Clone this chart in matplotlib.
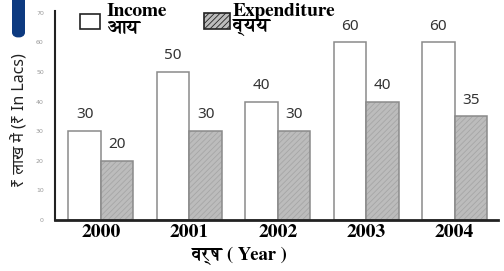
import matplotlib
matplotlib.use('Agg')
import matplotlib.pyplot as plt
import matplotlib.patches as mpatches
import numpy as np

# data
years = ['2000', '2001', '2002', '2003', '2004']
income = [30, 50, 40, 60, 60]
expenditure = [20, 30, 30, 40, 35]

serif = ['FreeSerif', 'Liberation Serif', 'DejaVu Serif']
sans = ['Noto Sans', 'Noto Sans Devanagari', 'DejaVu Sans']

plt.rcParams['hatch.linewidth'] = 0.6
plt.rcParams['hatch.color'] = '#a0a0a0'

fig = plt.figure(figsize=(5.04, 2.71), dpi=100)
ax = fig.add_axes([0.109, 0.188, 0.879, 0.77])

x = np.arange(len(years))
w = 0.367
ax.bar(x - w / 2, income, w, color='white', edgecolor='#8a8a8a', linewidth=1.1)
# hatched fill, then outline on top
ax.bar(x + w / 2, expenditure, w, color='#bcbcbc', edgecolor='#a6a6a6',
       linewidth=0, hatch='//////')
ax.bar(x + w / 2, expenditure, w, fill=False, edgecolor='#8a8a8a', linewidth=1.1)

for xi, v in zip(x - w / 2, income):
    ax.text(xi, v + 3, str(v), ha='center', va='bottom', fontsize=11,
            color='#333333', family=sans)
for xi, v in zip(x + w / 2, expenditure):
    ax.text(xi, v + 3, str(v), ha='center', va='bottom', fontsize=11,
            color='#333333', family=sans)

ax.set_xlim(-0.52, 4.49)
ax.set_ylim(0, 70.5)
ax.set_yticks(range(0, 71, 10))
ax.tick_params(axis='y', length=0, labelsize=4.5, labelcolor='#999999', pad=8)
ax.tick_params(axis='x', length=0, pad=3)
ax.set_xticks(x)
ax.set_xticklabels(years, fontsize=14, fontweight='bold', family=serif)
for s in ['top', 'right']:
    ax.spines[s].set_visible(False)
ax.spines['left'].set_linewidth(1.5)
ax.spines['bottom'].set_linewidth(2)
ax.spines['left'].set_color('#222222')
ax.spines['bottom'].set_color('#222222')

ax.set_xlabel('वर्ष ( Year )', fontsize=13.5, fontweight='bold', family=serif, va='center')
ax.xaxis.set_label_coords(0.418, -0.17)
ax.set_ylabel('₹ लाख में (₹ In Lacs)', fontsize=11.5, color='#222222',
              family=sans, va='center')
ax.yaxis.set_label_coords(-0.079, 0.48)

# legend drawn by hand
fig.patches.append(mpatches.Rectangle((80 / 504, 1 - 29 / 271), 20 / 504, 15 / 271,
                                      transform=fig.transFigure, facecolor='white',
                                      edgecolor='#222222', linewidth=1.2))
fig.patches.append(mpatches.Rectangle((204 / 504, 1 - 29 / 271), 26 / 504, 16 / 271,
                                      transform=fig.transFigure, facecolor='#bcbcbc',
                                      edgecolor='#222222', linewidth=1.2, hatch='//////'))
fig.text(107 / 504, 1 - 12 / 271, 'Income', fontsize=14, fontweight='bold',
         family=serif, va='center')
fig.text(107 / 504, 1 - 28 / 271, 'आय', fontsize=14, fontweight='bold',
         family=serif, va='center')
fig.text(233 / 504, 1 - 12 / 271, 'Expenditure', fontsize=14, fontweight='bold',
         family=serif, va='center')
fig.text(233 / 504, 1 - 28 / 271, 'व्यय', fontsize=14, fontweight='bold',
         family=serif, va='center')

# blue tab in the top left corner
fig.patches.append(mpatches.FancyBboxPatch((12 / 504, 1 - 38 / 271), 13 / 504, 50 / 271,
                                           boxstyle='round,pad=0,rounding_size=0.02',
                                           transform=fig.transFigure, facecolor='#0d3a80',
                                           edgecolor='none'))

fig.savefig('out.png', dpi=100)
